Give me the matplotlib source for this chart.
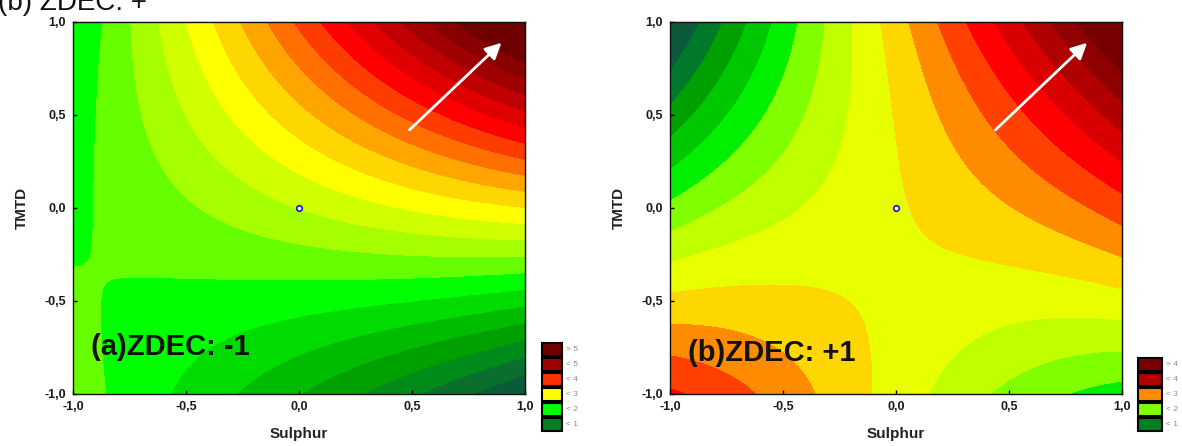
import numpy as np
import matplotlib
matplotlib.use("Agg")
import matplotlib.pyplot as plt
from matplotlib.patches import Rectangle

plt.rcParams['font.family'] = ['Liberation Sans', 'DejaVu Sans']

# ---- ZDEC = -1 : points on the contour boundaries (Sulphur, TMTD, level) ----
minus_top_s = [-0.873, -0.748, -0.630, -0.500, -0.381, -0.261, -0.137, -0.018,
               0.102, 0.212, 0.327, 0.447, 0.566, 0.681]
minus_top_v = [2.00, 2.25, 2.50, 2.75, 3.00, 3.25, 3.50, 3.75,
               4.00, 4.25, 4.50, 4.75, 5.00, 5.25]
minus_bottom_s = [-0.851, -0.571, -0.292, 0.004, 0.257, 0.504, 0.858]
minus_bottom_v = [2.00, 1.75, 1.50, 1.25, 1.00, 0.75, 0.50]
minus_right_t = [0.785, 0.687, 0.606, 0.517, 0.427, 0.356, 0.248, 0.159, 0.087,
                 -0.002, -0.074, -0.163, -0.253, -0.343, -0.450, -0.539,
                 -0.611, -0.683, -0.790, -0.897]
minus_right_v = [5.25, 5.00, 4.75, 4.50, 4.25, 4.00, 3.75, 3.50, 3.25,
                 3.00, 2.75, 2.50, 2.25, 2.00, 1.75, 1.50,
                 1.25, 1.00, 0.75, 0.50]
minus_inner_s = [-1.0, -0.873, -0.880, -0.920, -0.800, -0.400, 0.300, 0.0]
minus_inner_t = [-0.323, 0.600, 0.200, -0.100, -0.470, -0.430, -0.400, 0.0]
minus_inner_v = [2.00, 2.00, 2.00, 2.00, 2.00, 2.00, 2.00, 2.50]

# ---- ZDEC = +1 ----
plus_top_s = [-0.897, -0.787, -0.677, -0.559, -0.427, -0.309, -0.176, -0.059,
              0.066, 0.191, 0.323, 0.441, 0.559, 0.676, 0.823]
plus_top_v = [0.75, 1.00, 1.25, 1.50, 1.75, 2.00, 2.25, 2.50,
              2.75, 3.00, 3.25, 3.50, 3.75, 4.00, 4.25]
plus_bottom_s = [-0.970, -0.677, -0.382, -0.110, 0.176, 0.441, 0.706]
plus_bottom_v = [3.25, 3.00, 2.75, 2.50, 2.25, 2.00, 1.75]
plus_left_t = [0.674, 0.505, 0.327, 0.140, 0.030, -0.090, -0.230, -0.420,
               -0.620, -0.790, -0.955]
plus_left_v = [0.75, 1.00, 1.25, 1.50, 1.75, 2.00, 2.25, 2.50,
               2.75, 3.00, 3.25]
plus_right_t = [0.576, 0.270, 0.113, -0.047, -0.207, -0.368, -0.671, -0.831, -0.902]
plus_right_v = [4.25, 3.50, 3.25, 3.00, 2.75, 2.50, 2.25, 2.00, 1.75]
plus_inner_s = [0.0, 0.040, 0.235, -0.330, -0.100, 0.120]
plus_inner_t = [0.0, -0.170, -0.320, -0.550, -0.300, 0.300]
plus_inner_v = [2.50, 2.50, 2.50, 2.50, 2.38, 2.75]

# contour boundaries and fill colours
levels_minus = [0.50, 0.75, 1.00, 1.25, 1.50, 1.75, 2.00, 2.25, 2.50, 2.75,
                3.00, 3.25, 3.50, 3.75, 4.00, 4.25, 4.50, 4.75, 5.00, 5.25]
levels_plus = [0.75, 1.00, 1.25, 1.50, 1.75, 2.00, 2.25, 2.50,
               2.75, 3.00, 3.25, 3.50, 3.75, 4.00, 4.25]

colors_minus = ['#0B5A3A', '#0A6E2C', '#008A1A', '#00A000', '#00BC00',
                '#00DC00', '#00FF00', '#66FF00', '#A6FF00', '#D0FF00',
                '#FFFF00', '#FFD700', '#FFA500', '#FF7000', '#FF3C00',
                '#FF0000', '#E00000', '#C00000', '#A00000', '#880000',
                '#700000']
colors_plus = ['#0B5A3A', '#007A2A', '#00A000', '#00C800', '#00F000',
               '#80FF00', '#C0FF00', '#E8FF00', '#FFD700', '#FF8C00',
               '#FF4000', '#FF0000', '#D80000', '#B00000', '#900000',
               '#780000']

legend_labels_minus = ['> 5', '< 5', '< 4', '< 3', '< 2', '< 1']
legend_colors_minus = ['#700000', '#A00000', '#FF3000', '#FFFF00', '#00FF00', '#008020']
legend_labels_plus = ['> 4', '< 4', '< 3', '< 2', '< 1']
legend_colors_plus = ['#780000', '#B00000', '#FF8C00', '#80FF00', '#008020']

tick_vals = [-1.0, -0.5, 0.0, 0.5, 1.0]
tick_text = ['-1,0', '-0,5', '0,0', '0,5', '1,0']

W, H = 1182, 446
fig = plt.figure(figsize=(W / 100, H / 100), dpi=100)


def design(s, t):
    s = np.asarray(s, float)
    t = np.asarray(t, float)
    return np.stack([np.ones_like(s), s, t, s * t, s ** 2, t ** 2,
                     s ** 3, t ** 3, s ** 2 * t, s * t ** 2], axis=-1)


def fit_surface(top_s, top_v, bot_s, bot_v, left_t, left_v,
                right_t, right_v, in_s, in_t, in_v):
    s = list(top_s) + list(bot_s) + [-1.0] * len(left_t) + [1.0] * len(right_t) + list(in_s)
    t = [1.0] * len(top_s) + [-1.0] * len(bot_s) + list(left_t) + list(right_t) + list(in_t)
    v = list(top_v) + list(bot_v) + list(left_v) + list(right_v) + list(in_v)
    coef, *_ = np.linalg.lstsq(design(s, t), np.asarray(v), rcond=None)
    return coef


def panel(left_px, coef, levels, colors, label, label_base, arrow_from, arrow_to):
    ax = fig.add_axes([left_px / W, 52 / H, 452 / W, 372.3 / H])
    g = np.linspace(-1, 1, 401)
    S, T = np.meshgrid(g, g)
    Z = design(S, T) @ coef
    lv = [-100.0] + list(levels) + [100.0]
    ax.contourf(S, T, Z, levels=lv, colors=colors, antialiased=False)
    ax.set_xlim(-1, 1)
    ax.set_ylim(-1, 1)
    ax.set_xticks(tick_vals)
    ax.set_yticks(tick_vals)
    ax.set_xticklabels(tick_text, fontsize=9, fontweight='bold', color='#1a1a1a')
    ax.set_yticklabels(tick_text, fontsize=9, fontweight='bold', color='#1a1a1a')
    ax.tick_params(direction='in', length=3, width=1, pad=5)
    for sp in ax.spines.values():
        sp.set_linewidth(1.0)
        sp.set_color('#111111')
    top = ax.secondary_xaxis('top')
    top.set_xticks([-5/6, -4/6, -3/6, -2/6, -1/6, 0, 1/6, 2/6, 3/6, 4/6, 5/6])
    top.tick_params(direction='in', length=3, width=1, labeltop=False)
    right = ax.secondary_yaxis('right')
    right.set_yticks([-5/6, -1/2, -1/6, 1/6, 1/2, 5/6])
    right.tick_params(direction='in', length=3, width=1, labelright=False)

    ax.annotate('', xy=arrow_to, xytext=arrow_from,
                arrowprops=dict(arrowstyle='-|>', color='white', lw=2,
                                mutation_scale=24, shrinkA=0, shrinkB=0))
    ax.plot([0], [0], 'o', ms=4, mfc='white', mec='#1010ff', mew=1.2)
    ax.text(-0.92, label_base, label, fontsize=21, fontweight='bold',
            ha='left', va='baseline', color='#111111')
    ax.text(0.5, -0.1066, 'Sulphur', transform=ax.transAxes, ha='center',
            va='center', fontsize=11, fontweight='bold', color='#222222')
    ax.text(-0.114, 0.5, 'TMTD', transform=ax.transAxes, ha='center',
            va='center', rotation=90, fontsize=11, fontweight='bold',
            color='#222222')
    return ax


def legend(x_px, w_px, top_px, labels, cols):
    for i, (lab, c) in enumerate(zip(labels, cols)):
        y0 = top_px + 15 * i
        fig.patches.append(Rectangle((x_px / W, 1 - (y0 + 13) / H), w_px / W, 13 / H,
                                     transform=fig.transFigure, facecolor=c,
                                     edgecolor='black', linewidth=1.5))
        fig.text((x_px + w_px + 4) / W, 1 - (y0 + 6.5) / H, lab, fontsize=6,
                 color='#8c8c8c', ha='left', va='center')


coef_minus = fit_surface(minus_top_s, minus_top_v, minus_bottom_s, minus_bottom_v,
                         [], [], minus_right_t, minus_right_v,
                         minus_inner_s, minus_inner_t, minus_inner_v)
coef_plus = fit_surface(plus_top_s, plus_top_v, plus_bottom_s, plus_bottom_v,
                        plus_left_t, plus_left_v, plus_right_t, plus_right_v,
                        plus_inner_s, plus_inner_t, plus_inner_v)

panel(73, coef_minus, levels_minus, colors_minus, '(a)ZDEC: -1', -0.79,
      (0.489, 0.419), (0.896, 0.887))
panel(670, coef_plus, levels_plus, colors_plus, '(b)ZDEC: +1', -0.822,
      (0.44, 0.419), (0.846, 0.887))

legend(542, 20, 343, legend_labels_minus, legend_colors_minus)
legend(1138, 24, 358, legend_labels_plus, legend_colors_plus)

fig.text(-2 / W, 1 - 10 / H, '(b) ZDEC: +', fontsize=20, ha='left',
         va='baseline', color='#111111')

fig.savefig('out.png', dpi=100)
